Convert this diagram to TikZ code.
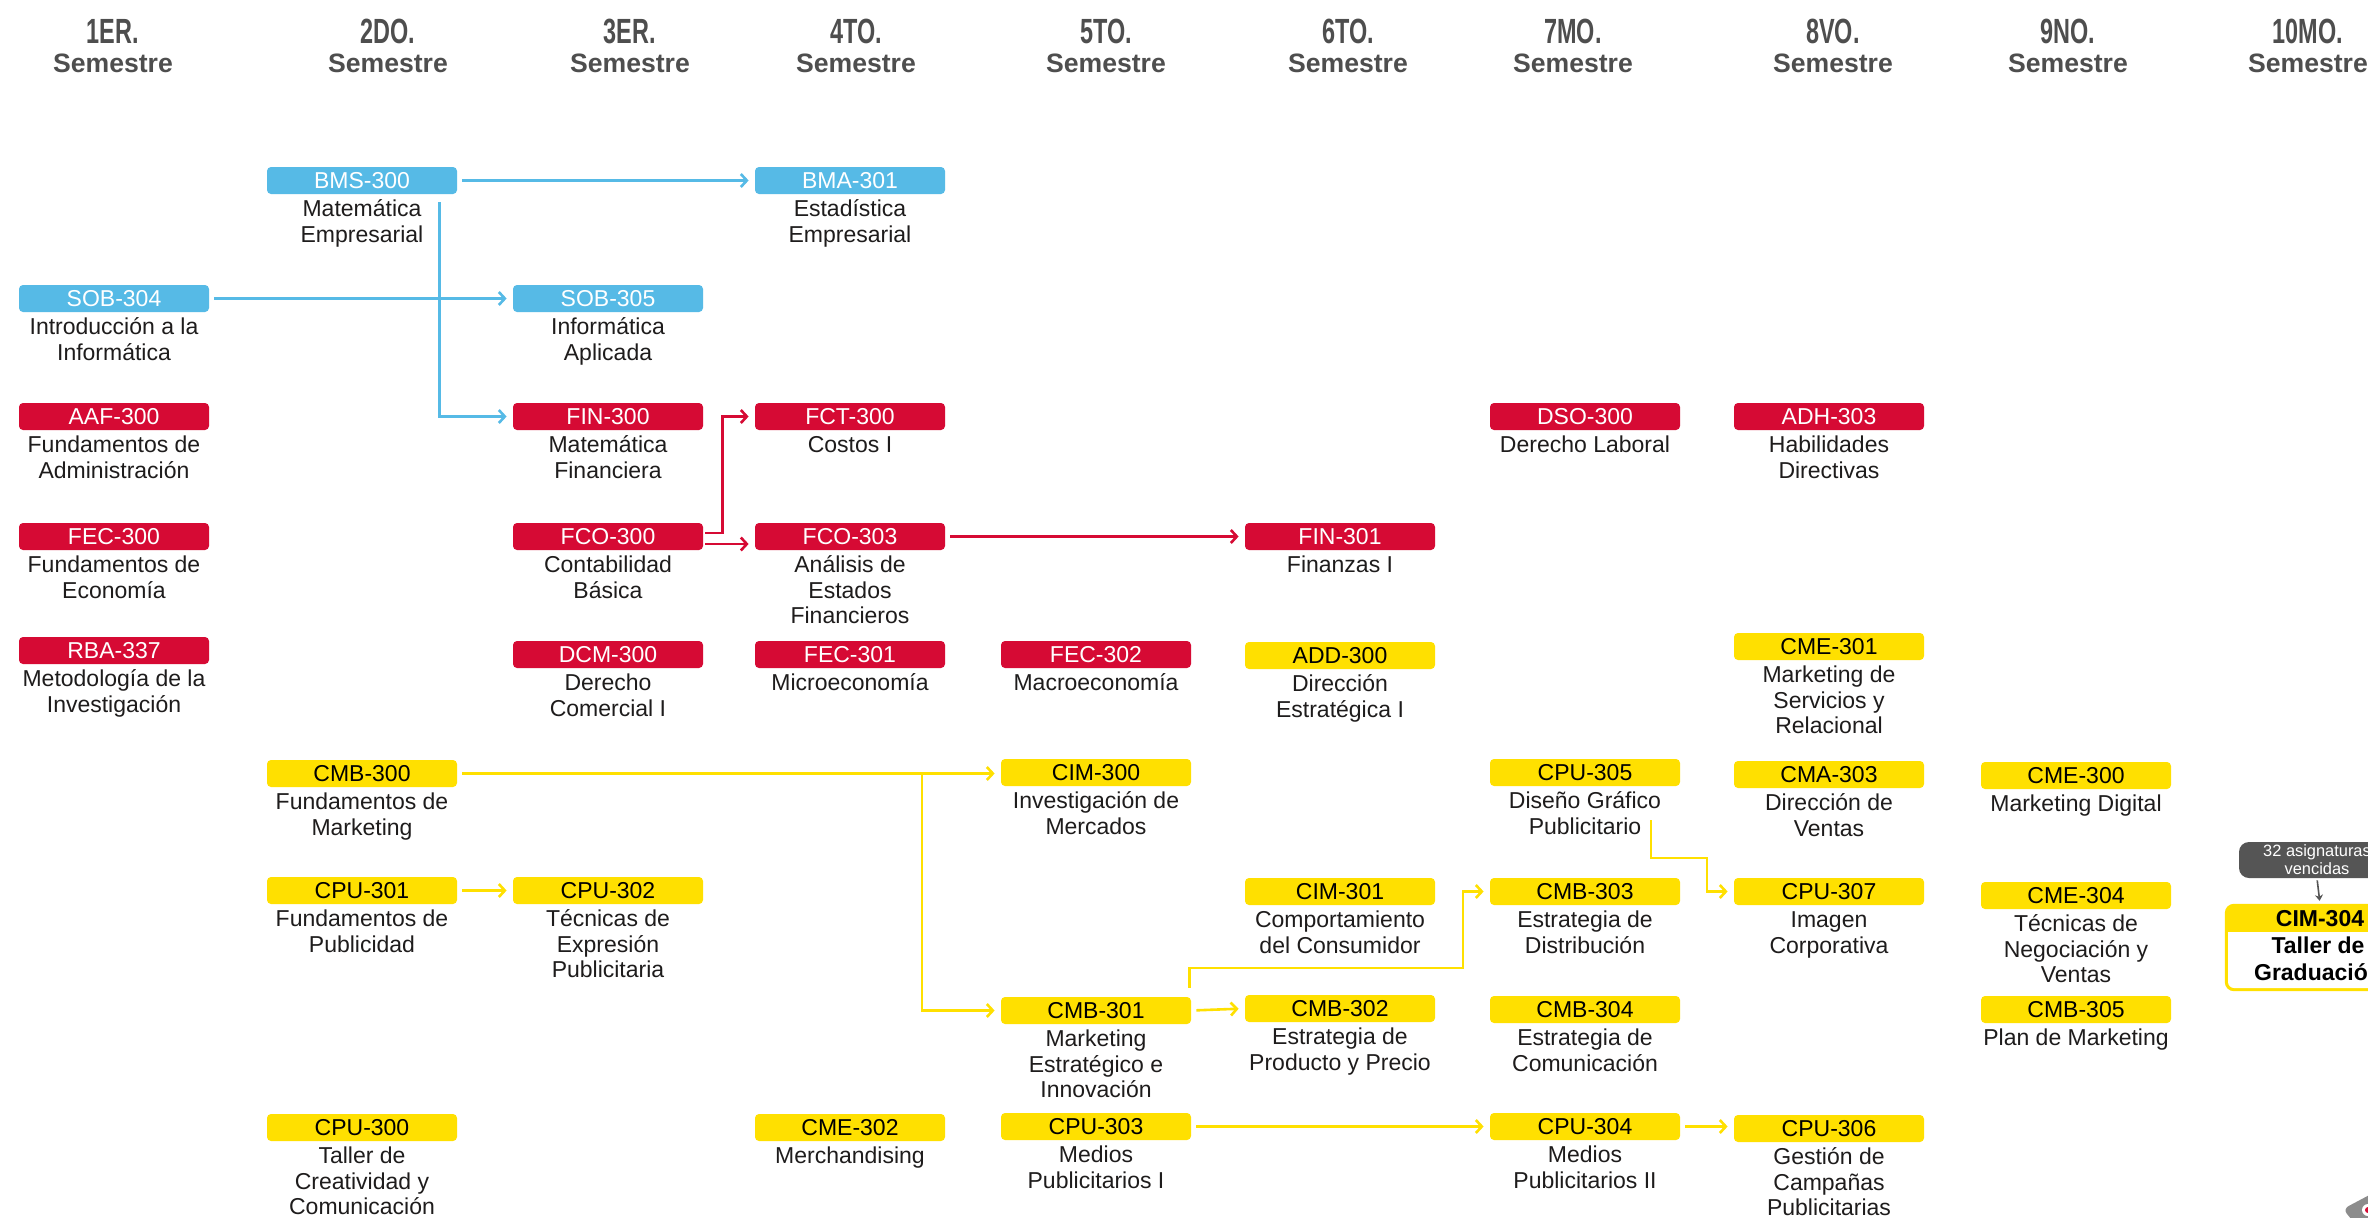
\documentclass[tikz,border=0pt]{standalone}
\usepackage{fontspec}
\setmainfont{Liberation Sans}
\newfontfamily\hdfont[FakeStretch=0.67]{Liberation Sans}
\usetikzlibrary{arrows.meta}
\definecolor{cblue}{RGB}{86,186,230}
\definecolor{cred}{RGB}{214,10,52}
\definecolor{cyel}{RGB}{255,224,0}
\definecolor{ctext}{RGB}{30,28,28}
\definecolor{chead}{RGB}{78,78,78}
\definecolor{cgrey}{RGB}{85,85,85}
\newcommand\crs[6]{%
  \node[cbox,#4] (#1) at (#2,#3+13.5) {#5};
  \node[desc] (#1t) at (#2,#3+27) {\rule{0pt}{11pt}#6};}
\newcommand\sem[3]{%
  \node[semnum] (h#1) at (#2,43.5) {#3};
  \node[semtxt] (s#1) at (#2,72) {Semestre};}
\begin{document}
\begin{tikzpicture}[x=0.5pt,y=-0.5pt,
  cbox/.style={rounded corners=2pt, minimum width=95pt, minimum height=13.5pt, inner sep=0pt, font=\fontsize{11.5}{12}\selectfont},
  fblue/.style={fill=cblue, text=white},
  fred/.style={fill=cred, text=white},
  fyel/.style={fill=cyel, text=black},
  desc/.style={anchor=north, align=center, inner sep=0pt, font=\fontsize{11.5}{12.8}\selectfont, text=ctext},
  semnum/.style={anchor=base, inner sep=0pt, font=\hdfont\bfseries\fontsize{17.5}{18}\selectfont, text=chead},
  semtxt/.style={anchor=base, inner sep=0pt, font=\bfseries\fontsize{13.3}{14}\selectfont, text=chead},
  conn/.style={line width=1.3pt, -{Straight Barb[length=3pt,width=6.5pt]}, shorten >=3pt, shorten <=2.5pt},
  barrow/.style={conn, draw=cblue},
  rarrow/.style={conn, draw=cred},
  yarrow/.style={conn, draw=cyel},
]
\useasboundingbox (0,0) rectangle (2368,1217);
\clip (0,0) rectangle (2368,1217);
\fill[white] (0,0) rectangle (2368,1217);

% semester headers
\sem{1}{113}{1ER.}
\sem{2}{388}{2DO.}
\sem{3}{630}{3ER.}
\sem{4}{856}{4TO.}
\sem{5}{1106}{5TO.}
\sem{6}{1348}{6TO.}
\sem{7}{1573}{7MO.}
\sem{8}{1833}{8VO.}
\sem{9}{2068}{9NO.}
\sem{10}{2308}{10MO.}

% column 1
\crs{SOB304}{114}{285}{fblue}{SOB-304}{Introducción a la\\Informática}
\crs{AAF300}{114}{403}{fred}{AAF-300}{Fundamentos de\\Administración}
\crs{FEC300}{114}{523}{fred}{FEC-300}{Fundamentos de\\Economía}
\crs{RBA337}{114}{637}{fred}{RBA-337}{Metodología de la\\Investigación}
% column 2
\crs{BMS300}{362}{167}{fblue}{BMS-300}{Matemática\\Empresarial}
\crs{CMB300}{362}{760}{fyel}{CMB-300}{Fundamentos de\\Marketing}
\crs{CPU301}{362}{877}{fyel}{CPU-301}{Fundamentos de\\Publicidad}
\crs{CPU300}{362}{1114}{fyel}{CPU-300}{Taller de\\Creatividad y\\Comunicación}
% column 3
\crs{SOB305}{608}{285}{fblue}{SOB-305}{Informática\\Aplicada}
\crs{FIN300}{608}{403}{fred}{FIN-300}{Matemática\\Financiera}
\crs{FCO300}{608}{523}{fred}{FCO-300}{Contabilidad\\Básica}
\crs{DCM300}{608}{641}{fred}{DCM-300}{Derecho\\Comercial I}
\crs{CPU302}{608}{877}{fyel}{CPU-302}{Técnicas de\\Expresión\\Publicitaria}
% column 4
\crs{BMA301}{850}{167}{fblue}{BMA-301}{Estadística\\Empresarial}
\crs{FCT300}{850}{403}{fred}{FCT-300}{Costos I}
\crs{FCO303}{850}{523}{fred}{FCO-303}{Análisis de\\Estados\\Financieros}
\crs{FEC301}{850}{641}{fred}{FEC-301}{Microeconomía}
\crs{CME302}{850}{1114}{fyel}{CME-302}{Merchandising}
% column 5
\crs{FEC302}{1096}{641}{fred}{FEC-302}{Macroeconomía}
\crs{CIM300}{1096}{759}{fyel}{CIM-300}{Investigación de\\Mercados}
\crs{CMB301}{1096}{997}{fyel}{CMB-301}{Marketing\\Estratégico e\\Innovación}
\crs{CPU303}{1096}{1113}{fyel}{CPU-303}{Medios\\Publicitarios I}
% column 6
\crs{FIN301}{1340}{523}{fred}{FIN-301}{Finanzas I}
\crs{ADD300}{1340}{642}{fyel}{ADD-300}{Dirección\\Estratégica I}
\crs{CIM301}{1340}{878}{fyel}{CIM-301}{Comportamiento\\del Consumidor}
\crs{CMB302}{1340}{995}{fyel}{CMB-302}{Estrategia de\\Producto y Precio}
% column 7
\crs{DSO300}{1585}{403}{fred}{DSO-300}{Derecho Laboral}
\crs{CPU305}{1585}{759}{fyel}{CPU-305}{Diseño Gráfico\\Publicitario}
\crs{CMB303}{1585}{878}{fyel}{CMB-303}{Estrategia de\\Distribución}
\crs{CMB304}{1585}{996}{fyel}{CMB-304}{Estrategia de\\Comunicación}
\crs{CPU304}{1585}{1113}{fyel}{CPU-304}{Medios\\Publicitarios II}
% column 8
\crs{ADH303}{1829}{403}{fred}{ADH-303}{Habilidades\\Directivas}
\crs{CME301}{1829}{633}{fyel}{CME-301}{Marketing de\\Servicios y\\Relacional}
\crs{CMA303}{1829}{761}{fyel}{CMA-303}{Dirección de\\Ventas}
\crs{CPU307}{1829}{878}{fyel}{CPU-307}{Imagen\\Corporativa}
\crs{CPU306}{1829}{1115}{fyel}{CPU-306}{Gestión de\\Campañas\\Publicitarias}
% column 9
\crs{CME300}{2076}{762}{fyel}{CME-300}{Marketing Digital}
\crs{CME304}{2076}{882}{fyel}{CME-304}{Técnicas de\\Negociación y\\Ventas}
\crs{CMB305}{2076}{996}{fyel}{CMB-305}{Plan de Marketing}

% column 10
\node[draw=cyel, fill=cyel, line width=1.2pt, rounded corners=4pt, minimum width=94pt, minimum height=42.5pt, inner sep=0pt] (CIM304) at (2320,947.5) {};
\fill[white] (2228,932) rectangle (2412,945);
\fill[white, rounded corners=3pt] (2228,932) rectangle (2412,988);
\node[inner sep=0pt, font=\bfseries\fontsize{11.5}{12}\selectfont, text=black] (CIM304h) at (2320,918.5) {CIM-304};
\node[desc, font=\bfseries\fontsize{11.5}{13.5}\selectfont, text=black] (CIM304t) at (2318,931) {\rule{0pt}{11pt}Taller de\\Graduación};
\node[fill=cgrey, rounded corners=5pt, text=white, minimum width=78pt, minimum height=18pt, inner sep=0pt, align=center, font=\fontsize{8.2}{9}\selectfont] (asig) at (2317,860) {32 asignaturas\\vencidas};
\draw[cgrey, line width=0.8pt, -{Stealth[length=3pt,width=4pt]}, shorten >=1.5pt, shorten <=1pt] (asig.south) -- (CIM304.north);

% decorative corner shape
\fill[black!45, rounded corners=3pt] (2343,1209) -- (2375,1192) -- (2375,1225) -- (2356,1225) -- cycle;
\fill[white] (2368,1210) circle (3pt);
\fill[cred] (2368,1210) circle (1.5pt);

% connectors
\coordinate (j1) at (922,773.5);
\coordinate (k1) at (1463,968);
\coordinate (m1) at (1651,820);
\coordinate (m2) at (1707,858);

\draw[barrow] (BMS300.east) -- (BMA301.west);
\draw[barrow, shorten <=0pt] ([xshift=-9pt,yshift=-4pt]BMS300.south east) |- (FIN300.west);
\draw[barrow] (SOB304.east) -- (SOB305.west);
\draw[rarrow, shorten <=1pt] ([yshift=1.75pt]FCO300.east) -- ++(9.5pt,0) |- (FCT300.west);
\draw[rarrow, shorten <=1pt] ([yshift=-3.75pt]FCO300.east) -- ([yshift=-3.75pt]FCO303.west);
\draw[rarrow] (FCO303.east) -- (FIN301.west);
\draw[yarrow] (CMB300.east) -- (CMB300.east -| CIM300.west);
\draw[yarrow, shorten <=0pt] (j1) |- (CMB301.west);
\draw[yarrow] (CPU301.east) -- (CPU302.west);
\draw[yarrow] (CMB301.east) -- (CMB302.west);
\draw[yarrow, shorten <=0pt] ([xshift=-1pt,yshift=4.5pt]CMB301.north east) |- (k1) |- (CMB303.west);
\draw[yarrow, shorten <=0pt] (m1) |- (m2) |- (CPU307.west);
\draw[yarrow] (CPU303.east) -- (CPU304.west);
\draw[yarrow] (CPU304.east) -- (CPU304.east -| CPU306.west);
\end{tikzpicture}
\end{document}
